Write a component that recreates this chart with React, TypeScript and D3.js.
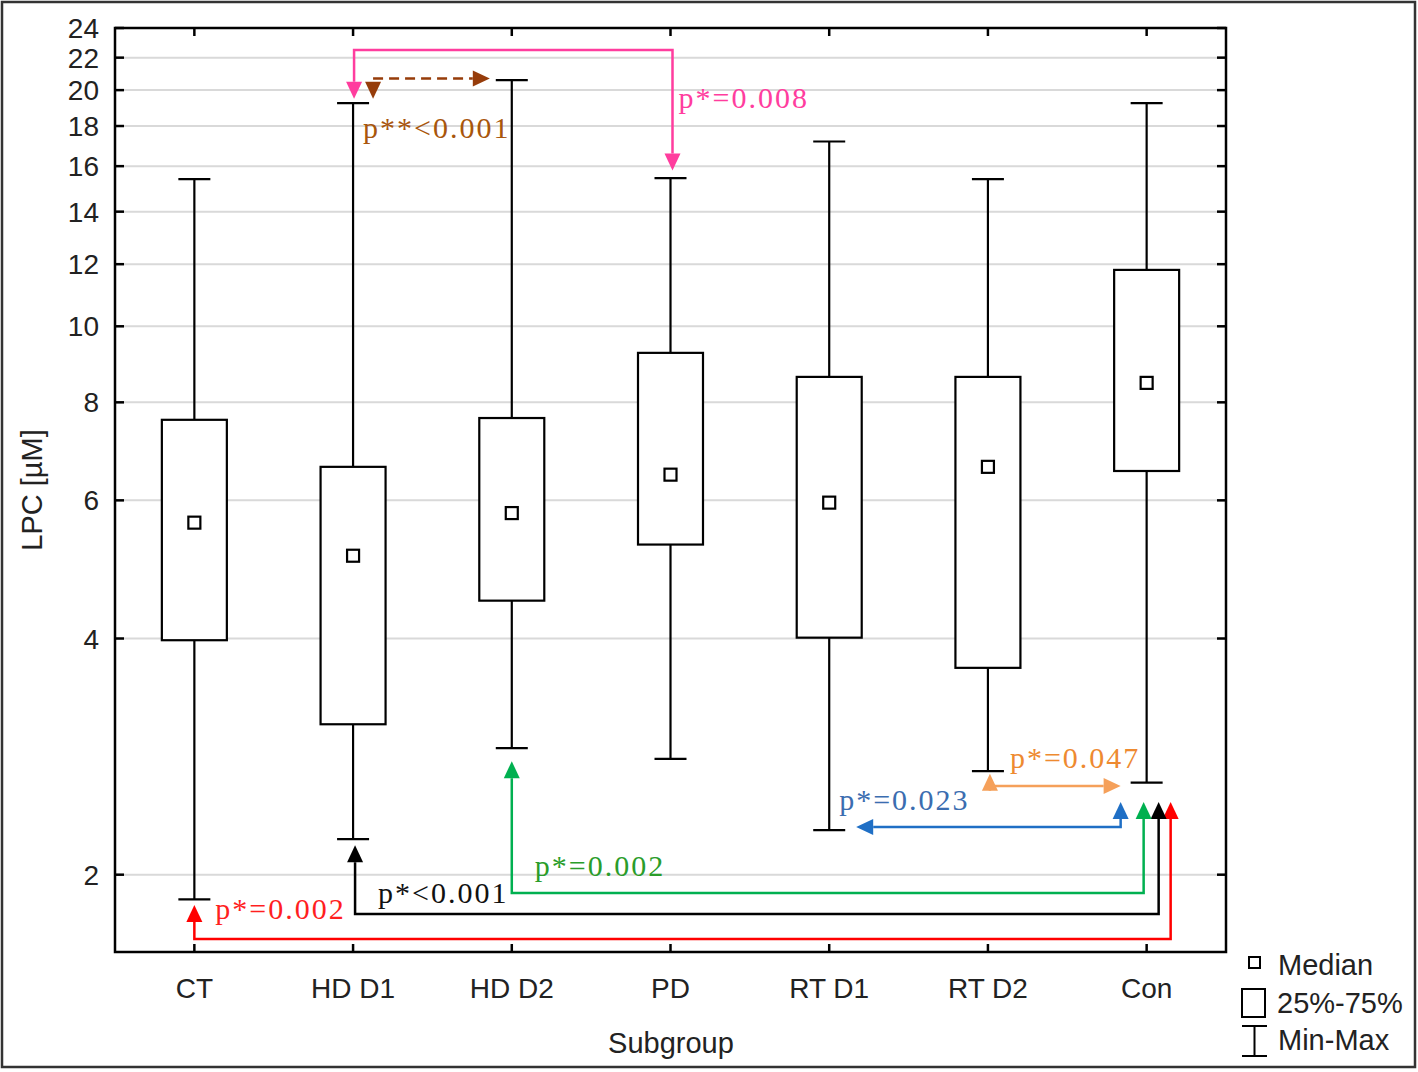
import React from "react";
import * as d3 from "d3";

// Box plot data (LPC, µM)
const groups = ["CT", "HD D1", "HD D2", "PD", "RT D1", "RT D2", "Con"];
const minVals = [1.86, 2.22, 2.9, 2.81, 2.28, 2.71, 2.62];
const q1Vals = [3.98, 3.11, 4.47, 5.27, 4.01, 3.67, 6.54];
const medianVals = [5.62, 5.1, 5.78, 6.47, 5.96, 6.62, 8.47];
const q3Vals = [7.6, 6.62, 7.64, 9.25, 8.62, 8.62, 11.8];
const maxVals = [15.4, 19.25, 20.6, 15.45, 17.2, 15.4, 19.25];

const yTicks = [2, 4, 6, 8, 10, 12, 14, 16, 18, 20, 22, 24];
const gridVals = [2, 4, 6, 8, 10, 12, 14, 16, 18, 20, 22];

// significance connectors from the control group (values in µM)
const conLinks = [
  { target: "CT", level: 1.656, tip: 1.83, dx: 24, tdx: 0, color: "#ff0000", text: "#ff1f1f", label: "p*=0.002", ldx: 21, ly: 1.755 },
  { target: "HD D1", level: 1.782, tip: 2.18, dx: 12, tdx: 2, color: "#000000", text: "#111111", label: "p*<0.001", ldx: 25, ly: 1.84 },
  { target: "HD D2", level: 1.895, tip: 2.79, dx: -3, tdx: 0, color: "#00b050", text: "#2a9d2a", label: "p*=0.002", ldx: 23, ly: 1.99 },
];
const conTip = 2.476;

const font = "'Liberation Sans', Arial, sans-serif";
const serif = "'Liberation Serif', 'Times New Roman', serif";

const W = 1418;
const H = 1072;
const left = 115;
const right = 1226;
const top = 28;
const bottom = 952;

const x = d3.scaleBand().domain(groups).range([left, right]).padding(0);
const y = d3.scaleLog().domain([1.594, 24]).range([bottom, top]);
const cx = (g: string) => (x(g) as number) + x.bandwidth() / 2;

const HL = 17; // arrow head length
const HW = 8; // arrow head half width

function head(tx: number, ty: number, dir: "up" | "down" | "left" | "right", color: string) {
  let pts: number[][] = [];
  if (dir === "up") pts = [[tx, ty], [tx - HW, ty + HL], [tx + HW, ty + HL]];
  if (dir === "down") pts = [[tx, ty], [tx - HW, ty - HL], [tx + HW, ty - HL]];
  if (dir === "left") pts = [[tx, ty], [tx + HL, ty - HW], [tx + HL, ty + HW]];
  if (dir === "right") pts = [[tx, ty], [tx - HL, ty - HW], [tx - HL, ty + HW]];
  return <polygon points={pts.map((p) => p.join(",")).join(" ")} fill={color} />;
}

const App: React.FC = () => {
  const boxW = 65;
  const capW = 32;
  const med = 12;
  const conX = cx("Con");

  return (
    <svg
      width={W}
      height={H}
      style={{ position: "absolute", left: 0, top: 0, background: "#fff" }}
      fontFamily={font}
    >
      <rect x={0} y={0} width={W} height={H} fill="#fff" />
      <rect x={2} y={2} width={1413} height={1065} fill="none" stroke="#333" strokeWidth={2.5} />

      {/* grid */}
      {gridVals.map((v) => (
        <line key={"g" + v} x1={left} x2={right} y1={y(v)} y2={y(v)} stroke="#d9d9d9" strokeWidth={2} />
      ))}

      {/* axes frame and ticks */}
      <rect x={left} y={top} width={right - left} height={bottom - top} fill="none" stroke="#000" strokeWidth={2.5} />
      {yTicks.map((v) => (
        <g key={"t" + v}>
          <line x1={left} x2={left + 9} y1={y(v)} y2={y(v)} stroke="#000" strokeWidth={2.5} />
          <line x1={right - 9} x2={right} y1={y(v)} y2={y(v)} stroke="#000" strokeWidth={2.5} />
          <text x={99} y={y(v)} dy="0.36em" textAnchor="end" fontSize={28} fill="#222">
            {v}
          </text>
        </g>
      ))}
      {groups.map((g) => (
        <g key={"xt" + g}>
          <line x1={cx(g)} x2={cx(g)} y1={top} y2={top + 8} stroke="#000" strokeWidth={2.5} />
          <line x1={cx(g)} x2={cx(g)} y1={bottom - 8} y2={bottom} stroke="#000" strokeWidth={2.5} />
          <text x={cx(g)} y={998} textAnchor="middle" fontSize={28} fill="#222">
            {g}
          </text>
        </g>
      ))}
      <text x={671} y={1053} textAnchor="middle" fontSize={29} fill="#222">
        Subgroup
      </text>
      <text transform="translate(42,490) rotate(-90)" textAnchor="middle" fontSize={29} fill="#222">
        LPC [µM]
      </text>

      {/* boxes */}
      {groups.map((g, i) => {
        const c = cx(g);
        return (
          <g key={"b" + g} stroke="#000" strokeWidth={2.2} fill="none">
            <line x1={c} x2={c} y1={y(maxVals[i])} y2={y(q3Vals[i])} />
            <line x1={c} x2={c} y1={y(q1Vals[i])} y2={y(minVals[i])} />
            <line x1={c - capW / 2} x2={c + capW / 2} y1={y(maxVals[i])} y2={y(maxVals[i])} />
            <line x1={c - capW / 2} x2={c + capW / 2} y1={y(minVals[i])} y2={y(minVals[i])} />
            <rect x={c - boxW / 2} y={y(q3Vals[i])} width={boxW} height={y(q1Vals[i]) - y(q3Vals[i])} fill="#fff" />
            <rect x={c - med / 2} y={y(medianVals[i]) - med / 2} width={med} height={med} fill="#fff" />
          </g>
        );
      })}

      {/* connectors from Con */}
      {conLinks.map((l) => {
        const x0 = conX + l.dx;
        const x1 = cx(l.target) + l.tdx;
        const ly = y(l.level);
        return (
          <g key={"c" + l.target}>
            <polyline
              points={`${x0},${y(conTip) + HL} ${x0},${ly} ${x1},${ly} ${x1},${y(l.tip) + HL}`}
              fill="none"
              stroke={l.color}
              strokeWidth={2.5}
            />
            {head(x0, y(conTip), "up", l.color)}
            {head(x1, y(l.tip), "up", l.color)}
            <text x={cx(l.target) + l.ldx} y={y(l.ly)} fontSize={30} letterSpacing={2} fontFamily={serif} fill={l.text}>
              {l.label}
            </text>
          </g>
        );
      })}

      {/* Con vs RT D1 (blue) */}
      <polyline
        points={`${conX - 26},${y(conTip) + HL} ${conX - 26},${y(2.3)} ${cx("RT D1") + 27 + HL},${y(2.3)}`}
        fill="none"
        stroke="#1f6fc5"
        strokeWidth={2.5}
      />
      {head(conX - 26, y(conTip), "up", "#1f6fc5")}
      {head(cx("RT D1") + 27, y(2.3), "left", "#1f6fc5")}
      <text x={cx("RT D1") + 10} y={y(2.42)} fontSize={30} letterSpacing={2} fontFamily={serif} fill="#3b6db0">
        p*=0.023
      </text>

      {/* RT D2 vs Con (orange) */}
      <polyline
        points={`${cx("RT D2") + 2},${y(2.69) + HL} ${cx("RT D2") + 2},${y(2.595)} ${conX - 26 - HL},${y(2.595)}`}
        fill="none"
        stroke="#f5a05a"
        strokeWidth={2.5}
      />
      {head(cx("RT D2") + 2, y(2.69), "up", "#f5a05a")}
      {head(conX - 26, y(2.595), "right", "#f5a05a")}
      <text x={cx("RT D2") + 22} y={y(2.735)} fontSize={30} letterSpacing={2} fontFamily={serif} fill="#ee8a30">
        p*=0.047
      </text>

      {/* HD D1 vs PD (pink) */}
      <polyline
        points={`${cx("HD D1") + 1},${y(19.5) - HL} ${cx("HD D1") + 1},${y(22.5)} ${cx("PD") + 2},${y(22.5)} ${cx("PD") + 2},${y(15.8) - HL}`}
        fill="none"
        stroke="#ff3d9e"
        strokeWidth={2.5}
      />
      {head(cx("HD D1") + 1, y(19.5), "down", "#ff3d9e")}
      {head(cx("PD") + 2, y(15.8), "down", "#ff3d9e")}
      <text x={cx("PD") + 8} y={y(19.0)} fontSize={30} letterSpacing={2} fontFamily={serif} fill="#ff3d9e">
        p*=0.008
      </text>

      {/* HD D1 vs HD D2 (brown, dashed) */}
      <line
        x1={cx("HD D1") + 20}
        x2={cx("HD D2") - 22 - HL}
        y1={y(20.7)}
        y2={y(20.7)}
        stroke="#963c0a"
        strokeWidth={2.5}
        strokeDasharray="10 6"
      />
      {head(cx("HD D1") + 20, y(19.5), "down", "#963c0a")}
      {head(cx("HD D2") - 22, y(20.7), "right", "#963c0a")}
      <text x={cx("HD D1") + 10} y={y(17.4)} fontSize={30} letterSpacing={2} fontFamily={serif} fill="#a8560c">
        p**&lt;0.001
      </text>

      {/* legend */}
      <g stroke="#000" strokeWidth={2} fill="#fff">
        <rect x={1249} y={957} width={11} height={11} />
        <rect x={1242} y={989} width={23} height={28} />
        <line x1={1254.5} x2={1254.5} y1={1026} y2={1056} />
        <line x1={1242} x2={1267} y1={1026} y2={1026} />
        <line x1={1242} x2={1267} y1={1056} y2={1056} />
      </g>
      <g fontSize={29} fill="#222">
        <text x={1278} y={975}>Median</text>
        <text x={1277} y={1013}>25%-75%</text>
        <text x={1278} y={1050}>Min-Max</text>
      </g>
    </svg>
  );
};

export default App;
